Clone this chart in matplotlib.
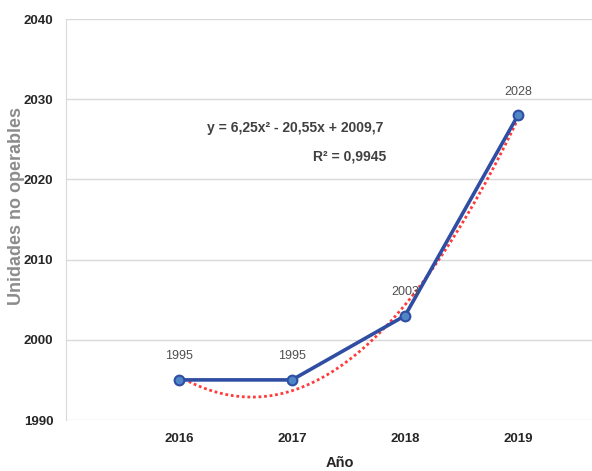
import matplotlib.pyplot as plt
import numpy as np

years = ["2016", "2017", "2018", "2019"]
units = [1995, 1995, 2003, 2028]
y_ticks = [1990, 2000, 2010, 2020, 2030, 2040]

plt.rcParams["font.family"] = ["Liberation Sans", "DejaVu Sans"]

fig = plt.figure(figsize=(5.92, 4.71), dpi=100)
ax = fig.add_axes([66 / 592, 1 - 420 / 471, (592 - 66) / 592, (420 - 19) / 471])

x = np.arange(1, len(years) + 1)

# second-order polynomial trend line
coef = np.polyfit(x, units, 2)
xs = np.linspace(1, len(years), 200)
ax.plot(xs, np.polyval(coef, xs), color="#ff3b3b", lw=2, ls=(0, (1, 1)), zorder=2)

ax.plot(x, units, color="#2f4ea3", lw=2.6, marker="o", ms=7,
        markerfacecolor="#4f86c6", markeredgecolor="#2f4ea3", markeredgewidth=1.5, zorder=3)

for xi, v in zip(x, units):
    ax.annotate(str(v), (xi, v), xytext=(0, 17), textcoords="offset points",
                ha="center", va="center", fontsize=9, color="#505050")

fit = np.polyval(coef, x)
r2 = 1 - np.sum((np.array(units) - fit) ** 2) / np.sum((np.array(units) - np.mean(units)) ** 2)
eq = "y = {:.2f}x² - {:.2f}x + {:.1f}".format(coef[0], -coef[1], coef[2]).replace(".", ",")
ax.text(2.81, 2026.4, eq, ha="right", va="center", fontsize=10, fontweight="bold", color="#404040")
ax.text(2.83, 2022.8, "R² = {:.4f}".format(r2).replace(".", ","), ha="right", va="center",
        fontsize=10, fontweight="bold", color="#404040")

ax.set_xlim(0, (592 - 66) / 113)
ax.set_ylim(1990, 2040)
ax.set_yticks(y_ticks)
ax.set_xticks(x)
ax.set_xticklabels(years)
ax.grid(axis="y", color="#d9d9d9", lw=1)
ax.set_axisbelow(True)
for s in ["top", "right", "bottom"]:
    ax.spines[s].set_visible(False)
ax.spines["left"].set_color("#d9d9d9")
ax.tick_params(length=0, labelsize=9.5, labelcolor="#262626")
ax.tick_params(axis="x", pad=9)
ax.tick_params(axis="y", pad=9)
for lbl in ax.get_xticklabels() + ax.get_yticklabels():
    lbl.set_fontweight("bold")

fig.text(17 / 592, 1 - 206 / 471, "Unidades no operables", rotation=90, ha="center", va="center",
         fontsize=13, fontweight="bold", color="#8c8c8c")
fig.text(340 / 592, 1 - 463 / 471, "Año", ha="center", va="center",
         fontsize=10.5, fontweight="bold", color="#262626")

fig.savefig("out.png", dpi=100)
